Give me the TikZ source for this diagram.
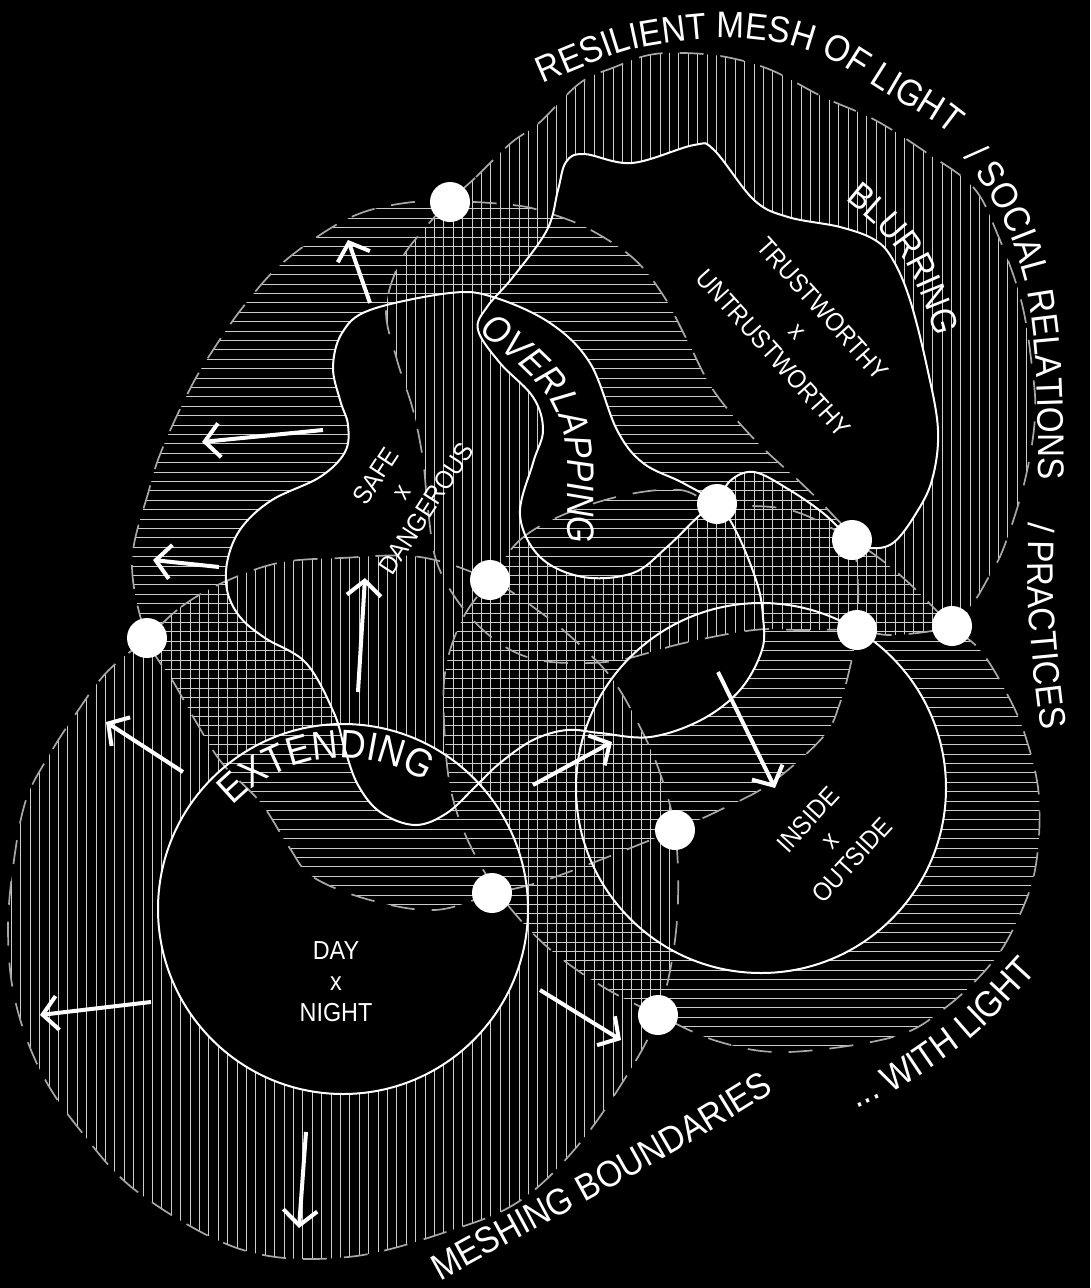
\documentclass[tikz,border=0pt]{standalone}
\usepackage{fontspec}
\newfontfamily\lblfont{Liberation Sans}[FakeStretch=0.9]
\usetikzlibrary{decorations.text,arrows.meta}

\def\pFVone{plot[smooth cycle,tension=0.6] coordinates {(450,-201) (476,-177) (511,-143) (539,-123) (580,-83) (615,-67) (649,-55) (684,-53) (726,-57) (771,-70) (823,-97) (875,-120) (927,-153) (973,-187) (997,-233) (1021,-300) (1032,-367) (1035,-417) (1025,-480) (1004,-547) (987,-580) (973,-603) (952,-626) (893,-635) (857,-630) (800,-630) (754,-630) (684,-643) (620,-660) (570,-663) (530,-658) (495,-640) (462,-607) (437,-563) (428,-510) (423,-460) (413,-410) (397,-360) (386,-310) (400,-262) (425,-228)}}
\def\pFHone{plot[smooth cycle,tension=0.6] coordinates {(450,-201) (513,-205) (545,-212) (587,-228) (633,-258) (663,-295) (687,-340) (710,-385) (735,-418) (765,-450) (800,-482) (830,-512) (852,-540) (858,-585) (857,-630) (851,-663) (840,-703) (823,-737) (771,-783) (720,-810) (675,-830) (600,-860) (540,-882) (492,-894) (435,-910) (370,-900) (313,-877) (289,-847) (261,-803) (222,-763) (195,-720) (174,-683) (147,-638) (132,-563) (149,-490) (163,-447) (191,-387) (215,-347) (243,-307) (278,-267) (323,-233) (361,-213) (405,-203)}}
\def\pFVtwo{plot[smooth cycle,tension=0.6] coordinates {(147,-638) (181,-607) (222,-583) (278,-563) (341,-558) (420,-557) (490,-580) (540,-612) (580,-645) (613,-680) (640,-727) (660,-773) (675,-830) (678,-900) (672,-960) (658,-1015) (632,-1067) (580,-1143) (521,-1200) (452,-1230) (348,-1257) (243,-1250) (139,-1193) (80,-1130) (40,-1070) (15,-1000) (8,-930) (14,-860) (26,-800) (48,-757) (75,-715) (106,-673)}}
\def\pFHtwo{plot[smooth cycle,tension=0.6] coordinates {(490,-580) (520,-540) (565,-514) (625,-495) (680,-490) (717,-504) (790,-510) (852,-540) (900,-575) (952,-626) (980,-650) (1005,-690) (1025,-735) (1039,-797) (1035,-870) (1015,-925) (990,-965) (945,-1008) (893,-1037) (788,-1052) (720,-1042) (658,-1015) (600,-985) (545,-945) (500,-895) (470,-845) (452,-795) (445,-740) (445,-673) (462,-620)}}
\def\pCoreT{plot[smooth cycle,tension=0.6] coordinates {(566,-162) (584,-154) (632,-163) (694,-145) (714,-150) (754,-200) (788,-217) (840,-227) (875,-240) (893,-260) (910,-300) (927,-367) (938,-430) (932,-480) (915,-515) (893,-543) (870,-548) (852,-540) (823,-513) (788,-489) (754,-472) (730,-481) (717,-504) (700,-515) (667,-547) (633,-573) (583,-577) (540,-557) (520,-515) (533,-463) (543,-430) (533,-397) (500,-363) (478,-330) (487,-307) (513,-277) (547,-230) (558,-190)}}
\def\pCoreS{plot[smooth cycle,tension=0.6] coordinates {(333,-367) (342,-333) (370,-310) (450,-293) (493,-297) (550,-323) (590,-363) (617,-430) (643,-463) (683,-483) (717,-504) (737,-533) (757,-583) (763,-617) (762,-650) (740,-690) (701,-720) (650,-737) (600,-733) (567,-730) (533,-740) (500,-763) (477,-785) (447,-813) (415,-825) (380,-812) (358,-785) (345,-750) (334,-713) (306,-663) (265,-638) (240,-617) (227,-590) (228,-558) (242,-527) (272,-500) (320,-477) (345,-452) (348,-425) (340,-400)}}
\def\pCoreD{(343,-909) circle[radius=185pt]}
\def\pCoreI{(761,-788) circle[radius=185pt]}

\newcommand\myvhatch{\foreach \i in {0,...,116}{\draw[hatch] ({\i*9.4+2},0) -- ({\i*9.4+2},-1288);}}
\newcommand\myhhatch{\foreach \i in {0,...,137}{\draw[hatch] (0,{-\i*9.4-2}) -- (1090,{-\i*9.4-2});}}

\begin{document}
\begin{tikzpicture}[x=1pt,y=1pt,
  hatch/.style={draw=white!80!black, line width=0.9pt},
  fieldline/.style={draw=white!66!black, line width=1.7pt, dash pattern=on 24pt off 17pt},
  coreline/.style={draw=white, line width=2pt},
  dotnode/.style={circle, fill=white, draw=none, minimum size=40pt, inner sep=0pt},
  arr/.style={draw=white, line width=4pt, -{Straight Barb[length=15pt,width=34pt]}},
  lbl/.style={text=white, align=center, inner sep=0pt}]
\fill[black] (0,0) rectangle (1090,-1288);
\useasboundingbox (0,0) rectangle (1090,-1288);

% hatched fields, each minus its own core
\begin{scope}[even odd rule]
\clip \pFVone \pCoreT;
\myvhatch
\end{scope}
\begin{scope}[even odd rule]
\clip \pFHone \pCoreS;
\myhhatch
\end{scope}
\begin{scope}[even odd rule]
\clip \pFVtwo \pCoreD;
\myvhatch
\end{scope}
\begin{scope}[even odd rule]
\clip \pFHtwo \pCoreI;
\myhhatch
\end{scope}

% dashed field outlines
\draw[fieldline] \pFVone;
\draw[fieldline] \pFHone;
\draw[fieldline] \pFVtwo;
\draw[fieldline] \pFHtwo;

% solid core outlines
\draw[coreline] \pCoreT;
\draw[coreline] \pCoreS;
\draw[coreline] \pCoreD;
\draw[coreline] \pCoreI;

% dots
\node[dotnode] (d1) at (450,-202) {};
\node[dotnode] (d2) at (147,-638) {};
\node[dotnode] (d3) at (490,-580) {};
\node[dotnode] (d4) at (717,-504) {};
\node[dotnode] (d5) at (852,-540) {};
\node[dotnode] (d6) at (857,-630) {};
\node[dotnode] (d7) at (952,-626) {};
\node[dotnode] (d8) at (675,-830) {};
\node[dotnode] (d9) at (492,-893) {};
\node[dotnode] (d10) at (658,-1015) {};

% arrows
\coordinate (a1s) at (370,-303);  \coordinate (a1e) at (348,-240);
\coordinate (a2s) at (323,-430);  \coordinate (a2e) at (202,-442);
\coordinate (a3s) at (219,-567);  \coordinate (a3e) at (153,-560);
\coordinate (a4s) at (358,-692);  \coordinate (a4e) at (365,-578);
\coordinate (a5s) at (183,-772);  \coordinate (a5e) at (106,-722);
\coordinate (a6s) at (151,-1002); \coordinate (a6e) at (40,-1015);
\coordinate (a7s) at (306,-1132); \coordinate (a7e) at (299,-1228);
\coordinate (a8s) at (540,-990);  \coordinate (a8e) at (621,-1040);
\coordinate (a9s) at (533,-785);  \coordinate (a9e) at (612,-742);
\coordinate (a10s) at (718,-672); \coordinate (a10e) at (775,-788);
\foreach \k in {1,...,10}{\draw[arr] (a\k s) -- (a\k e);}

% inner labels
\node[lbl, font=\lblfont\fontsize{26}{31}\selectfont] (day) at (336,-982) {DAY\\x\\NIGHT};
\node[lbl, rotate=57, font=\lblfont\fontsize{26}{30}\selectfont] (safe) at (401,-492) {SAFE\\x\\DANGEROUS};
\node[lbl, rotate=-48, font=\lblfont\fontsize{26}{33}\selectfont] (trust) at (798,-331) {TRUSTWORTHY\\x\\UNTRUSTWORTHY};
\node[lbl, rotate=47.5, font=\lblfont\fontsize{26}{30}\selectfont] (inside) at (830,-840) {INSIDE\\x\\OUTSIDE};

% curved labels
\path[decorate, decoration={text along path, text align=center,
  text={|\color{white}\lblfont\fontsize{40}{42}\selectfont|EXTENDING}}]
  ([shift={(343,-909)}]150:151pt) arc[start angle=150, end angle=44, radius=151pt];
\path[decorate, decoration={text along path, text align=left,
  text={|\color{white}\lblfont\fontsize{36}{38}\selectfont|BLURRING}}]
  plot[smooth] coordinates {(845,-200) (880,-230) (908,-267) (928,-312) (940,-357) (945,-385)};
\path[decorate, decoration={text along path, text align=left,
  text={|\color{white}\lblfont\itshape\fontsize{38}{40}\selectfont|OVERLAPPING}}]
  plot[smooth] coordinates {(478,-333) (505,-353) (530,-376) (550,-400) (562,-428) (567,-462) (568,-520) (569,-600)};

% outer labels
\path[decorate, decoration={text along path, text align=left,
  text={|\color{white}\lblfont\fontsize{37}{40}\selectfont|RESILIENT MESH OF LIGHT}}]
  plot[smooth] coordinates {(543,-84) (630,-50) (722,-38) (790,-45) (835,-62) (880,-90) (945,-130) (990,-178) (1010,-205)};
\path[decorate, decoration={text along path, text align=left,
  text={|\color{white}\lblfont\fontsize{37}{40}\selectfont|/ SOCIAL RELATIONS}}]
  plot[smooth] coordinates {(963,-158) (990,-195) (1012,-240) (1027,-290) (1035,-350) (1038,-420) (1038,-490) (1036,-540)};
\path[decorate, decoration={text along path, text align=left,
  text={|\color{white}\lblfont\fontsize{37}{40}\selectfont|/ PRACTICES}}]
  (1029,-522) .. controls (1024,-600) and (1034,-690) .. (1050,-790);
\path[decorate, decoration={text along path, text align=left,
  text={|\color{white}\lblfont\fontsize{37}{40}\selectfont|MESHING BOUNDARIES}}]
  plot[smooth] coordinates {(440,-1281) (522,-1236) (602,-1193) (692,-1142) (777,-1090) (830,-1058)};
\path[decorate, decoration={text along path, text align=left,
  text={|\color{white}\lblfont\fontsize{37}{40}\selectfont|... WITH LIGHT}}]
  plot[smooth] coordinates {(856,-1108) (905,-1085) (975,-1035) (1040,-968) (1075,-925)};
\end{tikzpicture}
\end{document}
